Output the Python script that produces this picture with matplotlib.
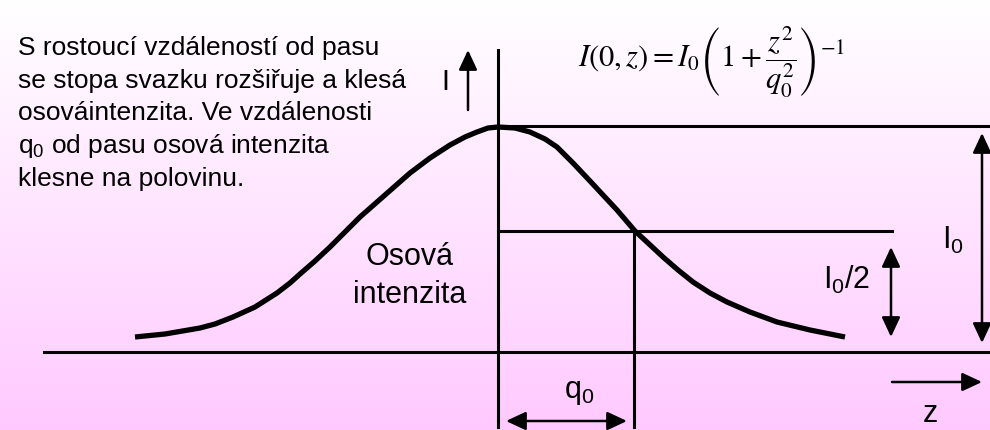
import numpy as np
import matplotlib

matplotlib.use("Agg")
import matplotlib.pyplot as plt

plt.rcParams["font.family"] = ["Liberation Sans", "DejaVu Sans"]
plt.rcParams["mathtext.fontset"] = "custom"
plt.rcParams["mathtext.rm"] = "Liberation Sans"
plt.rcParams["mathtext.it"] = "Liberation Sans:italic"

# on-axis intensity (z: px from the waist, I: px above baseline)
z_pts = [-363, -333, -298, -283, -265, -243, -221, -208, -198, -183, -168,
         -153, -138, -113, -88, -68, -48, -33, -21, -10, 0,
         17, 32, 47, 59, 75, 92, 105, 119, 137, 150, 165, 180, 195, 212,
         229, 252, 279, 312, 347]
i_pts = [15, 18, 24, 28, 35, 45, 59, 69, 78, 91, 105,
         120, 135, 157, 179, 194, 207, 215, 220, 224, 225,
         224, 220, 213, 205, 189, 171, 157, 142, 121, 109, 95, 82, 70, 59,
         50, 40, 30, 22, 15]

peak_level = 226
half_level = 121
q0 = 136

paragraph = [
    "S rostoucí vzdáleností od pasu",
    "se stopa svazku rozšiřuje a klesá",
    "osováintenzita. Ve vzdálenosti",
    "q$_0$ od pasu osová intenzita",
    "klesne na polovinu.",
]

fig = plt.figure(figsize=(9.9, 4.3), dpi=100)
ax = fig.add_axes([0, 0, 1, 1])
ax.set_xlim(-498, 492)
ax.set_ylim(-78, 352)
ax.axis("off")

# background gradient white -> pink (top to bottom)
grad = np.linspace(0, 1, 256)[:, None]
top = np.array([1.0, 1.0, 1.0])
bot = np.array([1.0, 0.79, 1.0])
img = top + (bot - top) * grad[..., None]
ax.imshow(img, extent=[-498, 492, -78, 352], aspect="auto", zorder=0)

lw_axis = 2.2
ax.plot([-454, 492], [0, 0], color="k", lw=lw_axis)
ax.plot([0, 0], [-75, 302], color="k", lw=lw_axis)
ax.plot([0, 492], [peak_level, peak_level], color="k", lw=lw_axis)
ax.plot([0, 394], [half_level, half_level], color="k", lw=lw_axis)
ax.plot([q0, q0], [-75, half_level], color="k", lw=lw_axis)

ax.plot(z_pts, i_pts, color="k", lw=3.8, solid_capstyle="butt",
        solid_joinstyle="round", zorder=5)


def arrow(x0, y0, x1, y1, style="-|>"):
    ax.annotate("", xy=(x1, y1), xytext=(x0, y0), annotation_clip=False,
                arrowprops=dict(arrowstyle=style + ",head_length=0.6,head_width=0.28",
                                color="k", lw=1.8, shrinkA=0, shrinkB=0,
                                mutation_scale=20))


arrow(-30, 242, -30, 302)                 # I axis arrow
arrow(484, 219, 484, 9, "<|-|>")          # I0
arrow(393, 105, 393, 15, "<|-|>")         # I0/2
arrow(8, -69, 129, -69, "<|-|>")          # q0
arrow(394, -30, 484, -30)                 # z direction

base_y = [297, 264, 232, 199, 166]
for line, y in zip(paragraph, base_y):
    ax.text(-480, y, line, fontsize=19, va="baseline", ha="left")

ax.text(-53, 270, "I", fontsize=21, ha="center", va="center")
ax.text(-88, 95, "Osová", fontsize=22, ha="center", va="center")
ax.text(-88, 57, "intenzita", fontsize=22, ha="center", va="center")
ax.text(455, 112, "I$_0$", fontsize=22, ha="center", va="center")
ax.text(349, 72, "I$_0$/2", fontsize=22, ha="center", va="center")
ax.text(81, -40, "q$_0$", fontsize=22, ha="center", va="center")
ax.text(432, -70, "z", fontsize=22, ha="center", va="baseline")

ax.text(80, 290, r"$I\left(0,z\right)=I_0\left(1+\dfrac{z^2}{q_0^2}\right)^{-1}$",
        fontsize=22, ha="left", va="center", math_fontfamily="stix")

fig.savefig("out.png", dpi=100)
